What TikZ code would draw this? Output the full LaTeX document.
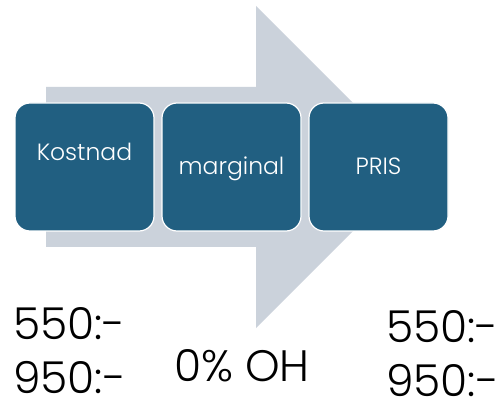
\documentclass[tikz,border=0pt]{standalone}
\usepackage{fontspec}
\setmainfont{Poppins Light}
\usepackage{tikz}
\usetikzlibrary{positioning}
\usepackage{xcolor}

\definecolor{boxblue}{RGB}{33,95,129}
\definecolor{arrowgray}{RGB}{203,210,219}

\tikzset{
  stage/.style={fill=boxblue, draw=white, line width=1.2pt, rounded corners=15pt,
    minimum width=139pt, minimum height=128pt, outer sep=0pt, inner sep=0pt,
    text=white, font=\fontsize{23.5}{26}\selectfont, text height=20pt, text depth=4pt},
  price/.style={anchor=base west, inner sep=0pt, font=\fontsize{44}{52}\selectfont}
}

\begin{document}
\begin{tikzpicture}[x=1pt, y=-1pt]
        \useasboundingbox (0,0) rectangle (503,403);
        % big arrow behind the boxes
        \fill[arrowgray] (46,87) -- (256,87) -- (256,6) -- (417,167) -- (256,328)
          -- (256,247) -- (46,247) -- cycle;
        % three stages
        \node[stage] (kostnad) at (84.5,167) {\raisebox{14pt}{Kostnad}};
        \node[stage, right=8pt of kostnad] (marginal) {marginal};
        \node[stage, right=8pt of marginal] (pris) {PRIS};
        % prices below
        \node[price] (costlow) at (13,339) {550:-};
        \node[price] (costhigh) at (13,393) {950:-};
        \node[price] (overhead) at (174,381) {0\% OH};
        \node[price] (prislow) at (386,342) {550:-};
        \node[price] (prishigh) at (386,396) {950:-};
      \end{tikzpicture}
\end{document}
